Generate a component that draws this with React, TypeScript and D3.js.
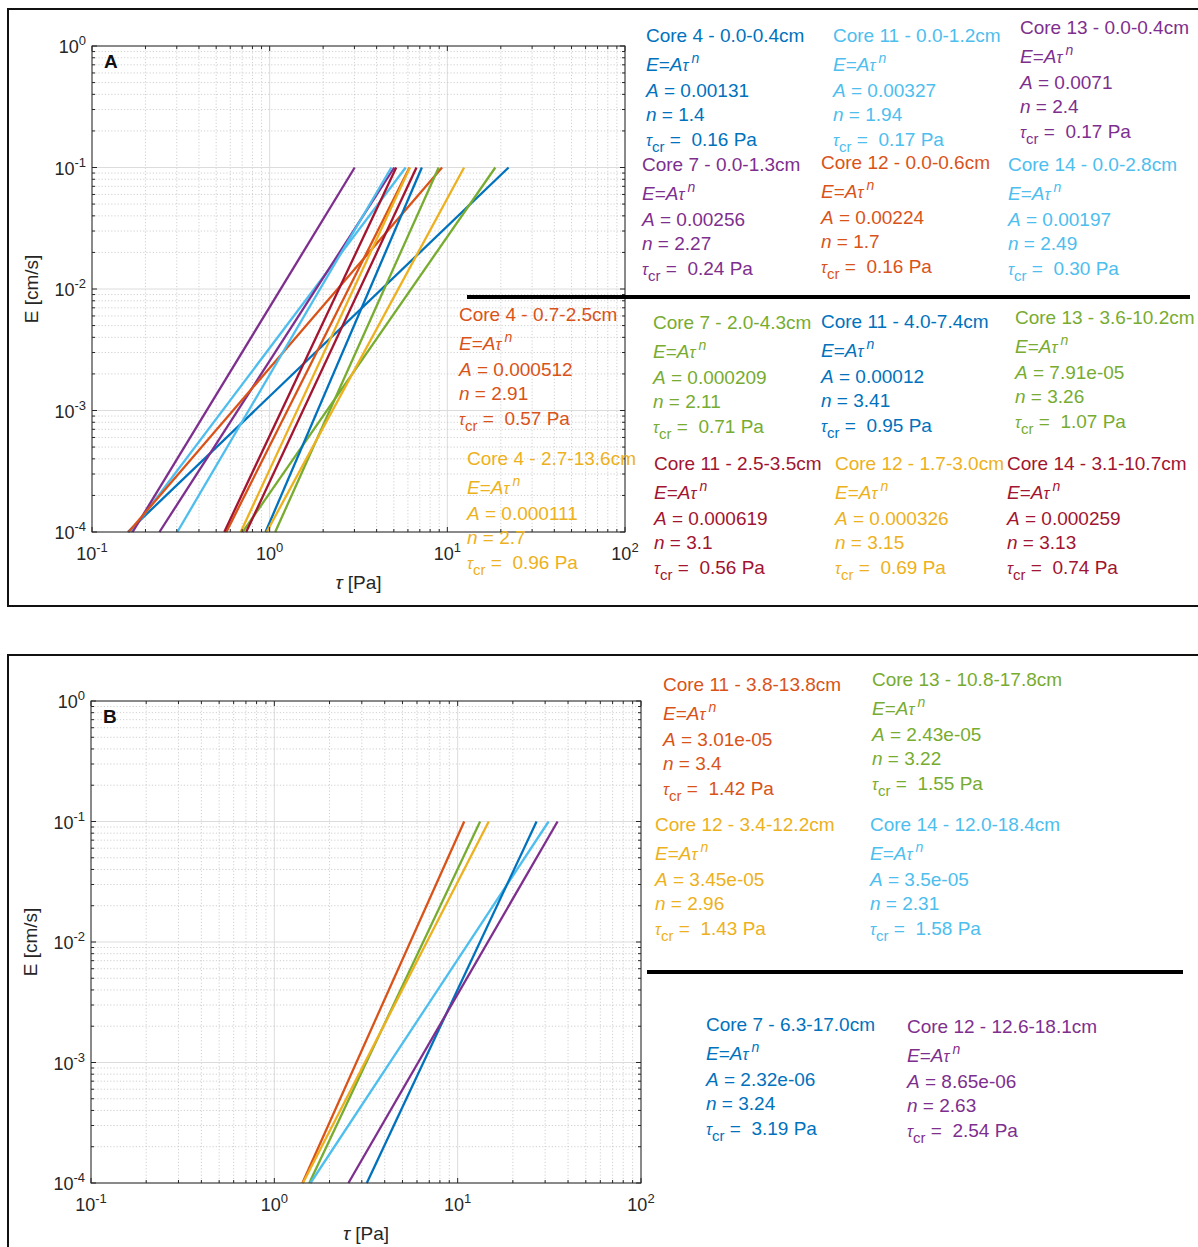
import React from "react";
import * as d3 from "d3";

// MATLAB default line colours
const C = {
  blue: "#0072BD",
  orange: "#D95319",
  yellow: "#EDB120",
  purple: "#7E2F8E",
  green: "#77AC30",
  cyan: "#4DBEEE",
  red: "#A2142F",
};

// ---- panel A data ----
const labelsA = [
  "Core 4 - 0.0-0.4cm",
  "Core 11 - 0.0-1.2cm",
  "Core 13 - 0.0-0.4cm",
  "Core 7 - 0.0-1.3cm",
  "Core 12 - 0.0-0.6cm",
  "Core 14 - 0.0-2.8cm",
  "Core 4 - 0.7-2.5cm",
  "Core 7 - 2.0-4.3cm",
  "Core 11 - 4.0-7.4cm",
  "Core 13 - 3.6-10.2cm",
  "Core 4 - 2.7-13.6cm",
  "Core 11 - 2.5-3.5cm",
  "Core 12 - 1.7-3.0cm",
  "Core 14 - 3.1-10.7cm",
];
const aValsA = ["0.00131", "0.00327", "0.0071", "0.00256", "0.00224", "0.00197", "0.000512", "0.000209", "0.00012", "7.91e-05", "0.000111", "0.000619", "0.000326", "0.000259"];
const nValsA = ["1.4", "1.94", "2.4", "2.27", "1.7", "2.49", "2.91", "2.11", "3.41", "3.26", "2.7", "3.1", "3.15", "3.13"];
const tcrA = ["0.16", "0.17", "0.17", "0.24", "0.16", "0.30", "0.57", "0.71", "0.95", "1.07", "0.96", "0.56", "0.69", "0.74"];
const colorsA = [C.blue, C.cyan, C.purple, C.purple, C.orange, C.cyan, C.orange, C.green, C.blue, C.green, C.yellow, C.red, C.yellow, C.red];
const blocksA = [
  [646, 35], [833, 35], [1020, 27],
  [642, 164], [821, 162], [1008, 164],
  [459, 314], [653, 322], [821, 321], [1015, 317],
  [467, 458], [654, 463], [835, 463], [1007, 463],
];

// ---- panel B data ----
const labelsB = [
  "Core 11 - 3.8-13.8cm",
  "Core 13 - 10.8-17.8cm",
  "Core 12 - 3.4-12.2cm",
  "Core 14 - 12.0-18.4cm",
  "Core 7 - 6.3-17.0cm",
  "Core 12 - 12.6-18.1cm",
];
const aValsB = ["3.01e-05", "2.43e-05", "3.45e-05", "3.5e-05", "2.32e-06", "8.65e-06"];
const nValsB = ["3.4", "3.22", "2.96", "2.31", "3.24", "2.63"];
const tcrB = ["1.42", "1.55", "1.43", "1.58", "3.19", "2.54"];
const colorsB = [C.orange, C.green, C.yellow, C.cyan, C.blue, C.purple];
const blocksB = [
  [663, 684], [872, 679],
  [655, 824], [870, 824],
  [706, 1024], [907, 1026],
];

const xDomain = [0.1, 100];
const yDomain = [1e-4, 1];
const eMin = 1e-4;
const eMax = 0.1;

const FONT = "'Liberation Sans', Arial, Helvetica, sans-serif";
const FS = 19;

function Pow10({ x, y, exp, anchor }) {
  return (
    <text x={x} y={y} textAnchor={anchor} fontSize={18} fill="#262626">
      10<tspan fontSize={13} dy={-8}>{exp}</tspan>
    </text>
  );
}

function Block({ x, y, color, label, a, n, tcr }) {
  const b = FS * 0.35;
  return (
    <g transform={`translate(${x},${y})`} fill={color} fontSize={FS}>
      <text y={b}>{label}</text>
      <text y={29 + b}>
        <tspan fontStyle="italic">E</tspan>=<tspan fontStyle="italic">A</tspan>
        <tspan fontStyle="italic" fontSize={16}>τ</tspan>
        <tspan fontStyle="italic" fontSize={14} dy={-8} dx={3}>n</tspan>
      </text>
      <text y={55 + b}>
        <tspan fontStyle="italic">A</tspan> = {a}
      </text>
      <text y={79 + b}>
        <tspan fontStyle="italic">n</tspan> = {n}
      </text>
      <text y={104 + b} xmlSpace="preserve">
        <tspan fontStyle="italic" fontSize={16}>τ</tspan>
        <tspan fontSize={15} dy={6}>cr</tspan>
        <tspan dy={-6}>{" =  " + tcr + " Pa"}</tspan>
      </text>
    </g>
  );
}

function Panel({ letter, frame, box, labels, aVals, nVals, tcrs, colors, blocks, sep }) {
  const [x0, y0, x1, y1] = box;
  const x = d3.scaleLog().domain(xDomain).range([x0, x1]);
  const y = d3.scaleLog().domain(yDomain).range([y1, y0]);
  const xt = x.ticks();
  const yt = y.ticks();
  const isMajor = (v) => Math.abs(Math.log10(v) - Math.round(Math.log10(v))) < 1e-9;
  const line = d3.line();

  return (
    <g fontFamily={FONT}>
      <rect x={frame[0]} y={frame[1]} width={frame[2]} height={frame[3]} fill="white" stroke="#111" strokeWidth={2} />

      {/* grid */}
      {xt.map((v, i) => (
        <line key={"gx" + i} x1={x(v)} x2={x(v)} y1={y0} y2={y1}
          stroke={isMajor(v) ? "#dcdcdc" : "#c4c4c4"} strokeWidth={isMajor(v) ? 1 : 0.8}
          strokeDasharray={isMajor(v) ? null : "1.2,2"} />
      ))}
      {yt.map((v, i) => (
        <line key={"gy" + i} x1={x0} x2={x1} y1={y(v)} y2={y(v)}
          stroke={isMajor(v) ? "#dcdcdc" : "#c4c4c4"} strokeWidth={isMajor(v) ? 1 : 0.8}
          strokeDasharray={isMajor(v) ? null : "1.2,2"} />
      ))}

      {/* fitted power laws E = A tau^n, from E = 1e-4 up to 0.1 */}
      {aVals.map((aStr, i) => {
        const A = +aStr;
        const n = +nVals[i];
        const t0 = Math.pow(eMin / A, 1 / n);
        const t1 = Math.pow(eMax / A, 1 / n);
        return (
          <path key={"l" + i} d={line([[x(t0), y(eMin)], [x(t1), y(eMax)]])}
            stroke={colors[i]} strokeWidth={2.3} fill="none" />
        );
      })}

      {/* axes box + ticks */}
      <rect x={x0} y={y0} width={x1 - x0} height={y1 - y0} fill="none" stroke="#262626" strokeWidth={1} />
      {xt.map((v, i) => {
        const L = isMajor(v) ? 5 : 3;
        return (
          <g key={"tx" + i} stroke="#262626" strokeWidth={1}>
            <line x1={x(v)} x2={x(v)} y1={y1} y2={y1 - L} />
            <line x1={x(v)} x2={x(v)} y1={y0} y2={y0 + L} />
          </g>
        );
      })}
      {yt.map((v, i) => {
        const L = isMajor(v) ? 5 : 3;
        return (
          <g key={"ty" + i} stroke="#262626" strokeWidth={1}>
            <line x1={x0} x2={x0 + L} y1={y(v)} y2={y(v)} />
            <line x1={x1} x2={x1 - L} y1={y(v)} y2={y(v)} />
          </g>
        );
      })}

      {xt.filter(isMajor).map((v, i) => (
        <Pow10 key={"xl" + i} x={x(v)} y={y1 + 28} exp={String(Math.round(Math.log10(v)))} anchor="middle" />
      ))}
      {yt.filter(isMajor).map((v, i) => (
        <Pow10 key={"yl" + i} x={x0 - 6} y={y(v) + 7} exp={String(Math.round(Math.log10(v)))} anchor="end" />
      ))}

      <text transform={`translate(${x0 - 54},${(y0 + y1) / 2}) rotate(-90)`} textAnchor="middle" fontSize={19} fill="#262626">
        E [cm/s]
      </text>
      <text x={(x0 + x1) / 2} y={y1 + 57} textAnchor="middle" fontSize={19} fill="#262626">
        <tspan fontStyle="italic">τ</tspan> [Pa]
      </text>
      <text x={x0 + 12} y={y0 + 22} fontSize={19} fontWeight="bold" fill="#111">{letter}</text>

      <line x1={sep[0]} x2={sep[1]} y1={sep[2]} y2={sep[2]} stroke="#000" strokeWidth={4} />

      {labels.map((lab, i) => (
        <Block key={"b" + i} x={blocks[i][0]} y={blocks[i][1]} color={colors[i]}
          label={lab} a={aVals[i]} n={nVals[i]} tcr={tcrs[i]} />
      ))}
    </g>
  );
}

export default function App() {
  return (
    <svg width={1198} height={1247} style={{ position: "absolute", left: 0, top: 0, background: "white" }}>
      <Panel letter="A" frame={[8, 9, 1200, 597]} box={[92, 46, 625, 532]}
        labels={labelsA} aVals={aValsA} nVals={nValsA} tcrs={tcrA} colors={colorsA}
        blocks={blocksA} sep={[467, 1190, 297]} />
      <Panel letter="B" frame={[8, 655, 1200, 600]} box={[91, 701, 641, 1183]}
        labels={labelsB} aVals={aValsB} nVals={nValsB} tcrs={tcrB} colors={colorsB}
        blocks={blocksB} sep={[647, 1183, 972]} />
    </svg>
  );
}
